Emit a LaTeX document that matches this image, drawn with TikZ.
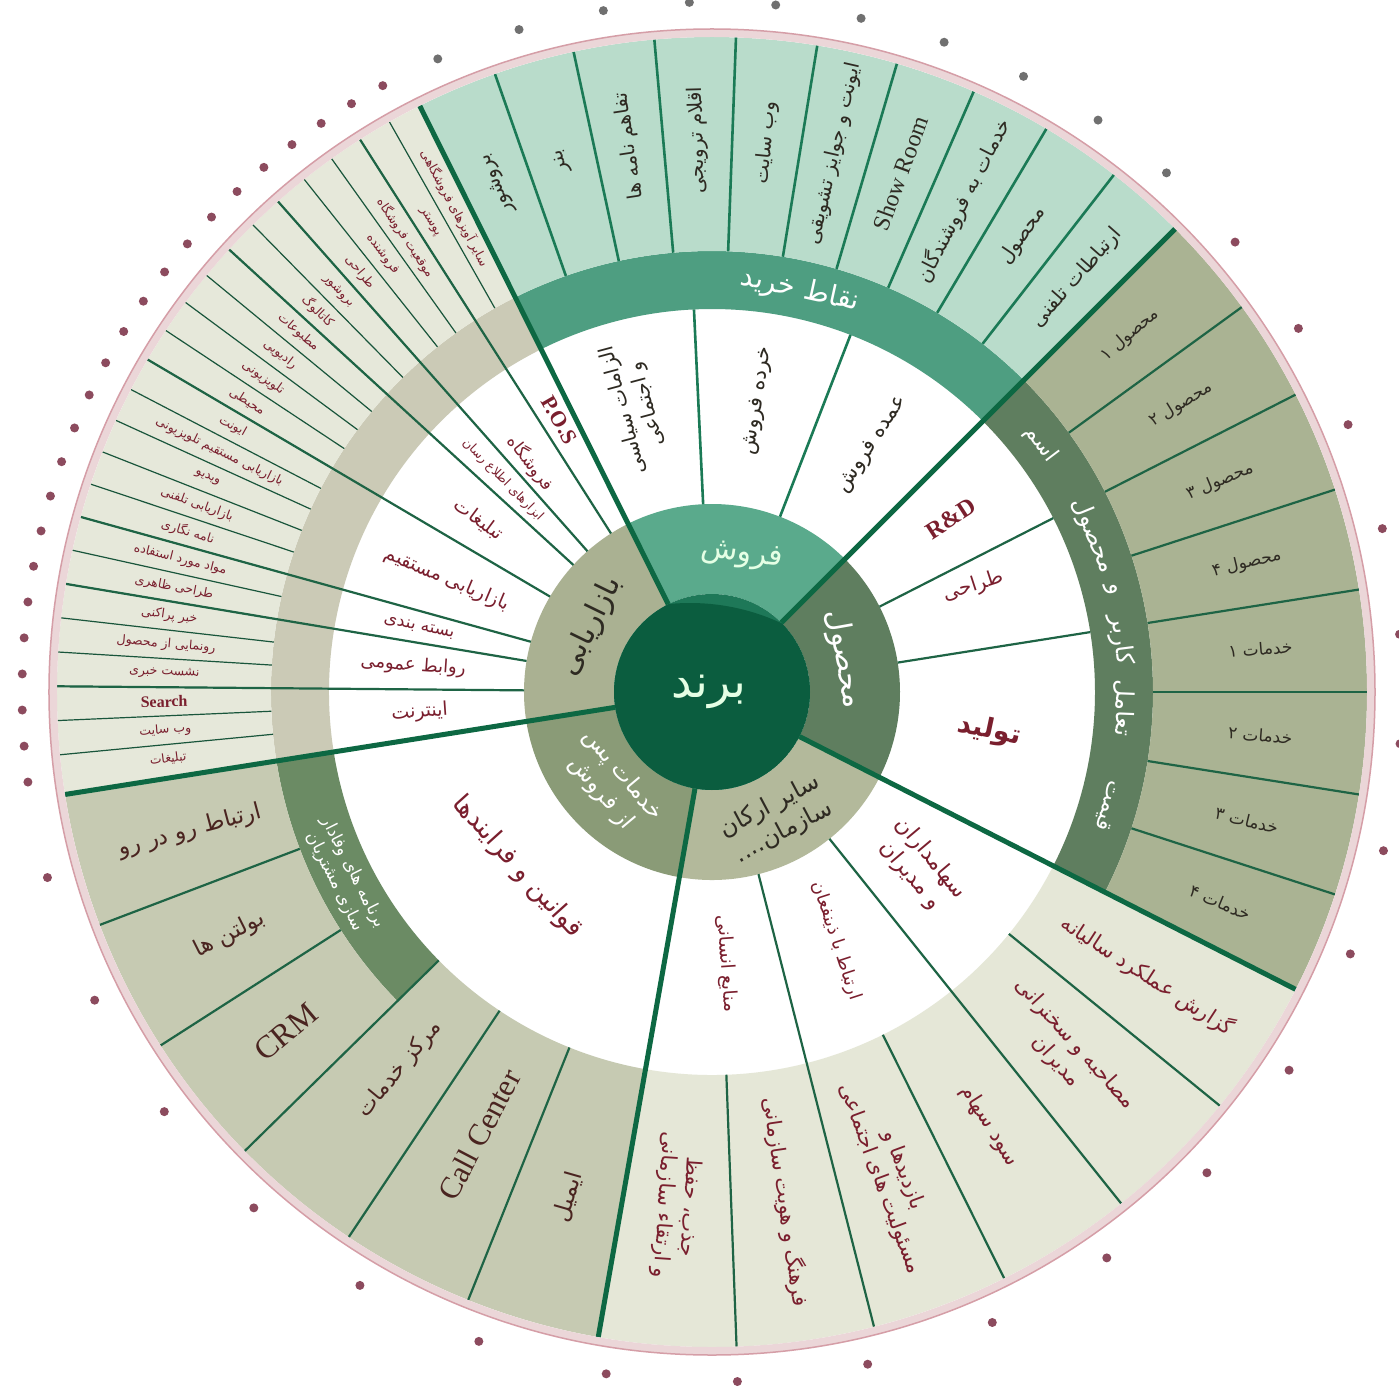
\documentclass[tikz,border=0pt]{standalone}
\usepackage{fontspec}
\usepackage{xfp}
\setmainfont{Liberation Serif}
\newfontfamily\arabicfont[Script=Arabic]{DejaVu Sans}
\newfontfamily\latinfont{Liberation Serif}
\TeXXeTstate=1
\newcommand{\fa}[1]{{\arabicfont\beginR #1\endR}}
\newcommand{\lat}[1]{{\latinfont\beginL #1\endL}}
\newcommand{\sectorfill}[5]{\fill[#5] (#1:#3) arc[start angle=#1, end angle=#2, radius=#3] -- (#2:#4) arc[start angle=#2, end angle=#1, radius=#4] -- cycle;}
\definecolor{brandgreen}{HTML}{0B5D3F}
\definecolor{brandcap}{HTML}{1E7858}
\definecolor{spoke}{HTML}{0D6843}
\definecolor{salesin}{HTML}{5AAA8C}
\definecolor{salesband}{HTML}{4E9E81}
\definecolor{salescell}{HTML}{B9DCCB}
\definecolor{salesline}{HTML}{1B7A56}
\definecolor{prodin}{HTML}{5F7E5F}
\definecolor{prodcell}{HTML}{AAB393}
\definecolor{otherin}{HTML}{B3B99B}
\definecolor{othercell}{HTML}{E5E7D7}
\definecolor{afterin}{HTML}{8A9B77}
\definecolor{afterband}{HTML}{6B8B64}
\definecolor{aftercell}{HTML}{C6CAB2}
\definecolor{mktin}{HTML}{AAB192}
\definecolor{mktband}{HTML}{CBCAB6}
\definecolor{mktcell}{HTML}{E6E8DA}
\definecolor{cellline}{HTML}{1E6445}
\definecolor{maroon}{HTML}{7A1F2E}
\definecolor{darktext}{HTML}{2E2A22}
\definecolor{aftertext}{HTML}{4A2420}
\definecolor{ringfill}{HTML}{EBD6D8}
\definecolor{ringline}{HTML}{D59EA7}
\definecolor{dotred}{HTML}{8C4B5E}
\definecolor{dotgrey}{HTML}{707070}

\begin{document}
\begin{tikzpicture}[x=1pt, y=1pt,
  lbl/.style={inner sep=0pt, align=center},
  fs/.style={font=\fontsize{#1}{\fpeval{1.22*#1}}\selectfont},
  spokeline/.style={spoke, line width=5},
  divline/.style={cellline, line width=2.2},
  thinline/.style={cellline!85!black, line width=1.2},
  saleline/.style={salesline, line width=2.6}]
\fill[white] (-712,-695) rectangle (687,692);
\useasboundingbox (-712,-695) rectangle (687,692);
\sectorfill{45}{116.5}{98}{188}{salesin}
\sectorfill{45}{116.5}{383}{441}{salesband}
\sectorfill{45}{116.5}{441}{655}{salescell}
\sectorfill{-27}{45}{98}{188}{prodin}
\sectorfill{-27}{45}{383}{441}{prodin}
\sectorfill{-27}{45}{441}{655}{prodcell}
\sectorfill{-100}{-27}{98}{188}{otherin}
\sectorfill{-100}{-27}{383}{655}{othercell}
\sectorfill{189}{260}{98}{188}{afterin}
\sectorfill{189}{224.5}{383}{441}{afterband}
\sectorfill{189}{224.5}{441}{655}{aftercell}
\sectorfill{224.5}{260}{383}{655}{aftercell}
\sectorfill{116.5}{189}{98}{188}{mktin}
\sectorfill{116.5}{189}{383}{441}{mktband}
\sectorfill{116.5}{189}{441}{655}{mktcell}
\begin{scope}
\clip (0,0) circle (98);
\fill[brandcap] (0,0) circle (98);
\fill[brandgreen] (-22,-127) circle (216);
\end{scope}
\foreach \k in {1,...,9} \draw[saleline] ({116.5-7.15*\k}:441) -- ({116.5-7.15*\k}:655);
\foreach \a in {68.8,92.7} \draw[saleline] (\a:188) -- (\a:383);
\foreach \k in {1,...,7} \draw[divline] ({45-9*\k}:441) -- ({45-9*\k}:655);
\foreach \a in {27,9} \draw[divline] (\a:188) -- (\a:383);
\foreach \k in {1,3,5} \draw[divline] ({-27-12.17*\k}:383) -- ({-27-12.17*\k}:655);
\foreach \k in {2,4} \draw[divline] ({-27-12.17*\k}:188) -- ({-27-12.17*\k}:655);
\foreach \k in {1,2} \draw[divline] ({189+11.83*\k}:441) -- ({189+11.83*\k}:655);
\foreach \k in {3,4,5} \draw[divline] ({189+11.83*\k}:383) -- ({189+11.83*\k}:655);
\foreach \k in {1,...,23} \draw[thinline] ({116.5+3*\k}:441) -- ({116.5+3*\k}:655);
\foreach \k in {2,5,7,11,16,18,21} \draw[divline] ({116.5+3*\k}:188) -- ({116.5+3*\k}:655);
\foreach \a in {45,116.5,189,260,333} \draw[spokeline] (\a:98) -- (\a:655);
\fill[ringfill, even odd rule] (0,0) circle (663) (0,0) circle (655);
\draw[ringline, line width=1.5] (0,0) circle (663);
\node[lbl, fs=46, text=white!90!green] (brand) at (-3,0) {\fa{برند}};
\node[lbl, fs=30, text=white!90!green, rotate=-8] (sales) at (77.6:140) {\fa{فروش}};
\node[lbl, fs=30, text=white, rotate=-80] (product) at (14:136) {\fa{محصول}};
\node[lbl, fs=30, text=darktext, rotate=64] (marketing) at (151.6:138) {\fa{بازاریابی}};
\node[lbl, fs=23, text=white, rotate=-50] (aftersales) at (222.8:136) {\fa{خدمات پس}\\\fa{از فروش}};
\node[lbl, fs=24, text=darktext, rotate=28] (otherorg) at (-63:143) {\fa{سایر ارکان}\\\fa{سازمان....}};
\node[lbl, fs=28, text=white, rotate=-12.4] (buypoints) at (77.6:411) {\fa{نقاط خرید}};
\node[lbl, fs=22, text=white, rotate=-53] (brandname) at (37:412) {\fa{اسم}};
\node[lbl, fs=24, text=white, rotate=-67.7] (ux1) at (22.3:412) {\fa{محصول}};
\node[lbl, fs=24, text=white, rotate=-75.6] (ux2) at (14.4:412) {\fa{و}};
\node[lbl, fs=24, text=white, rotate=-82.7] (ux3) at (7.3:412) {\fa{کاربر}};
\node[lbl, fs=24, text=white, rotate=-92.2] (ux4) at (-2.2:412) {\fa{تعامل}};
\node[lbl, fs=22, text=white, rotate=-106] (price) at (-16:412) {\fa{قیمت}};
\node[lbl, fs=17, text=white, rotate=-63.3] (loyalty) at (206.7:412) {\fa{برنامه های وفادار}\\\fa{سازی مشتریان}};
\node[lbl, fs=20, text=darktext, rotate=105] (politic) at (105:295) {\fa{الزامات سیاسی}\\\fa{و اجتماعی}};
\node[lbl, fs=21, text=darktext, rotate=81] (retail) at (81:295) {\fa{خرده فروش}};
\node[lbl, fs=21, text=darktext, rotate=57] (wholesale) at (57:295) {\fa{عمده فروش}};
\node[lbl, fs=24, text=maroon, rotate=33] (rnd) at (36:295) {\lat{\bfseries R\&D}};
\node[lbl, fs=20, text=maroon, rotate=18] (design) at (22:282) {\fa{طراحی}};
\node[lbl, fs=27, text=maroon, rotate=-12] (production) at (-8:280) {\fa{\bfseries تولید}};
\node[lbl, fs=22, text=maroon, rotate=-50] (holders) at (-40:272) {\fa{سهامداران}\\\fa{و مدیران}};
\node[lbl, fs=18, text=maroon, rotate=-72] (stake) at (-63.5:278) {\fa{ارتباط با ذینفعان}};
\node[lbl, fs=19, text=maroon, rotate=-86] (hr) at (-87:272) {\fa{منابع انسانی}};
\node[lbl, fs=26, text=maroon, rotate=-48] (rules) at (222:262) {\fa{قوانین و فرایندها}};
\node[lbl, fs=22, text=maroon, rotate=-60] (pos) at (119.3:312) {\lat{\bfseries P.O.S}};
\node[lbl, fs=17, text=maroon, rotate=-52] (store) at (128.4:292) {\fa{فروشگاه}};
\node[lbl, fs=12.5, text=maroon, rotate=-45.5] (infotools) at (134.6:298) {\fa{ابزارهای اطلاع رسان}};
\node[lbl, fs=19, text=maroon, rotate=-36.5] (adv) at (143.5:290) {\fa{تبلیغات}};
\node[lbl, fs=19, text=maroon, rotate=-23] (direct) at (157:288) {\fa{بازاریابی مستقیم}};
\node[lbl, fs=17, text=maroon, rotate=-12] (pack) at (167.5:300) {\fa{بسته بندی}};
\node[lbl, fs=18, text=maroon, rotate=-4] (pr) at (175:300) {\fa{روابط عمومی}};
\node[lbl, fs=19, text=maroon, rotate=4] (internet) at (184:293) {\fa{اینترنت}};
\foreach \t [count=\i] in {بروشور, بنر, تفاهم نامه ها, اقلام ترویجی, وب سایت, ایونت و جوایز تشویقی, \lat{\fontsize{24}{28}\selectfont Show Room}, خدمات به فروشندگان, محصول, ارتباطات تلفنی}
  \node[lbl, fs=20, text=darktext, rotate={120.075-7.15*\i}] (sc\i) at ({120.075-7.15*\i}:552) {\fa{\t}};
\foreach \t [count=\i] in {محصول ۱, محصول ۲, محصول ۳, محصول ۴, خدمات ۱, خدمات ۲, خدمات ۳, خدمات ۴}
  \node[lbl, fs=17, text=darktext, rotate={49.5-9*\i}] (pc\i) at ({49.5-9*\i}:550) {\fa{\t}};
\foreach \t [count=\i] in {سایر آویزهای فروشگاهی, پوستر, موقعیت فروشگاه, فروشنده, طراحی, بروشور, کاتالوگ, مطبوعات, رادیویی, تلویزیونی, محیطی, ایونت, بازاریابی مستقیم تلویزیونی, ویدیو, بازاریابی تلفنی, نامه نگاری, مواد مورد استفاده, طراحی ظاهری, خبر پراکنی, رونمایی از محصول, نشست خبری, \lat{\fontsize{16}{18}\selectfont\bfseries Search}, وب سایت, تبلیغات}
  \node[lbl, fs=12.5, text=maroon, rotate={115+3*\i-180}] (mc\i) at ({115+3*\i}:548) {\fa{\t}};
\node[lbl, fs=21, text=maroon, rotate=-33] (oc1) at (-33.1:520) {\fa{گزارش عملکرد سالیانه}};
\node[lbl, fs=21, text=maroon, rotate=-48] (oc2) at (-45.6:505) {\fa{مصاحبه و سخنرانی}\\\fa{مدیران}};
\node[lbl, fs=21, text=maroon, rotate=-57.4] (oc3) at (-57.4:515) {\fa{سود سهام}};
\node[lbl, fs=21, text=maroon, rotate=-69.6] (oc4) at (-69.6:515) {\fa{بازدیدها و}\\\fa{مسئولیت های اجتماعی}};
\node[lbl, fs=21, text=maroon, rotate=-81.8] (oc5) at (-81.8:515) {\fa{فرهنگ و هویت سازمانی}};
\node[lbl, fs=21, text=maroon, rotate=-93.9] (oc6) at (-93.9:515) {\fa{جذب، حفظ}\\\fa{و ارتقاء سازمانی}};
\node[lbl, fs=23, text=aftertext, rotate=14.9] (ac1) at (194.9:540) {\fa{ارتباط رو در رو}};
\node[lbl, fs=23, text=aftertext, rotate=26.7] (ac2) at (206.7:540) {\fa{بولتن ها}};
\node[lbl, fs=32, text=aftertext, rotate=40] (ac3) at (218.6:545) {\lat{CRM}};
\node[lbl, fs=22, text=aftertext, rotate=50.4] (ac4) at (230.4:490) {\fa{مرکز خدمات}};
\node[lbl, fs=31, text=aftertext, rotate=62.3] (ac5) at (242.3:500) {\lat{Call Center}};
\node[lbl, fs=23, text=aftertext, rotate=74.1] (ac6) at (254.1:525) {\fa{ایمیل}};
\foreach \i in {0,...,9} \fill[dotgrey] ({48.8+7.18*\i}:690) circle (4.5);
\foreach \i in {0,...,23} \fill[dotred] ({118.5+3*\i}:690) circle (4.5);
\foreach \i in {0,...,13} \fill[dotred] ({195.6+10.93*\i}:690) circle (4.5);
\foreach \a in {346.7,355.7,4.8,13.7,22.8,31.8,40.7} \fill[dotred] (\a:690) circle (4.5);
\end{tikzpicture}
\end{document}
